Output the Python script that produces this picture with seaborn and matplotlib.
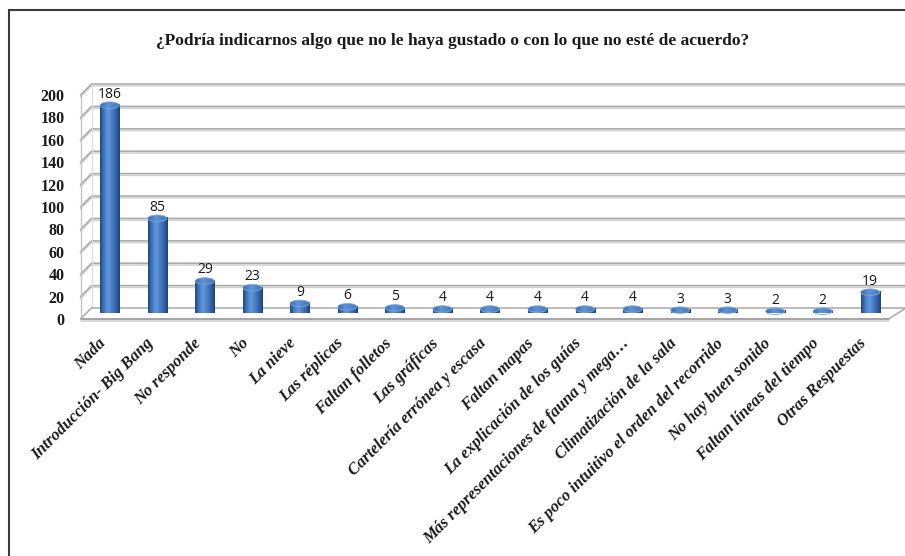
import numpy as np
import pandas as pd
import matplotlib
matplotlib.use('Agg')
import matplotlib.pyplot as plt
import matplotlib.patheffects as pe
import seaborn as sns
from matplotlib.patches import Ellipse, Polygon
from matplotlib.colors import LinearSegmentedColormap
from matplotlib.lines import Line2D

# ---------------- data ----------------
categories = ["Nada", "Introducción- Big Bang", "No responde", "No", "La nieve",
              "Las réplicas", "Faltan folletos", "Las gráficas",
              "Cartelería errónea y escasa", "Faltan mapas",
              "La explicación de los guías",
              "Más representaciones de fauna y mega…",
              "Climatización de la sala",
              "Es poco intuitivo el orden del recorrido",
              "No hay buen sonido", "Faltan líneas del tiempo",
              "Otras Respuestas"]
values = [186, 85, 29, 23, 9, 6, 5, 4, 4, 4, 4, 4, 3, 3, 2, 2, 19]
y_ticks = list(range(0, 201, 20))
title = "¿Podría indicarnos algo que no le haya gustado o con lo que no esté de acuerdo?"

# ---------------- figure ----------------
sns.set_theme(style='white')
plt.rcParams['font.family'] = ['Liberation Serif', 'DejaVu Serif']
W, H = 905, 556
fig = plt.figure(figsize=(W / 100, H / 100), dpi=100)
fig.patch.set_facecolor('white')

ax_left, ax_w = 86, 808
ax_bottom_px, ax_h = 313.5, 224
ax = fig.add_axes([ax_left / W, (H - ax_bottom_px) / H, ax_w / W, ax_h / H])
ax.set_facecolor('none')

df = pd.DataFrame({'cat': categories, 'val': values})
sns.barplot(data=df, x='cat', y='val', color='#3d73b9', width=0.4,
            saturation=1, ax=ax, zorder=4)

n = len(categories)
ppx = ax_w / n          # pixels per x unit
ppy = ax_h / 200.0      # pixels per y unit
dx = 5.5 / ppx          # depth offset (x)
dy = 5.5 / ppy          # depth offset (y)
xl, xr = -0.5, n - 0.5

# back wall gridlines + left wall diagonals
grid_pe = [pe.SimpleLineShadow(offset=(0, -1.3), shadow_color='#d0d0d0', alpha=1),
           pe.Normal()]
for t in y_ticks[1:]:
    ax.add_line(Line2D([xl - dx, xl + dx, xr + 2.2 * dx],
                       [t - dy, t + dy, t + dy],
                       color='#a8a8a8', lw=1.1, clip_on=False, zorder=1,
                       path_effects=grid_pe))
# floor
floor = Polygon([(xl - dx, -dy), (xr - dx, -dy), (xr + 2.2 * dx, dy), (xl + dx, dy)],
                closed=True, facecolor='white', edgecolor='#a8a8a8', lw=1.1,
                clip_on=False, zorder=1.5)
ax.add_patch(floor)
ax.add_line(Line2D([xl - dx, xr - dx], [-dy, -dy], color='#a0a0a0', lw=1.1,
                   clip_on=False, zorder=1.6, path_effects=grid_pe))
# left wall edges
ax.add_line(Line2D([xl - dx, xl - dx], [-dy, 200 - dy], color='#c4c4c4', lw=1.0,
                   clip_on=False, zorder=1))
ax.add_line(Line2D([xl + dx, xl + dx], [dy, 200 + dy], color='#dcdcdc', lw=0.8,
                   clip_on=False, zorder=1))

# cylinder shading
cmap_body = LinearSegmentedColormap.from_list(
    'body', [(0, '#1f4a85'), (0.28, '#4f86d0'), (0.42, '#6398dc'),
             (0.7, '#3d72ba'), (1, '#1c4377')])
cmap_top = LinearSegmentedColormap.from_list(
    'top', [(0, '#3669b0'), (0.4, '#5f93d8'), (1, '#3f74bd')])
grad = np.linspace(0, 1, 256).reshape(1, -1)
eh = 6.5 / ppy  # ellipse height in data units

bars = list(ax.patches)
for p, v in zip(bars, values):
    x0, w, h = p.get_x(), p.get_width(), p.get_height()
    xc = x0 + w / 2
    p.set_facecolor('none')
    p.set_edgecolor('none')
    # bottom half ellipse
    eb = Ellipse((xc, 0), w, eh, facecolor='none', edgecolor='none', clip_on=False)
    ax.add_patch(eb)
    im = ax.imshow(grad, cmap=cmap_body, extent=(x0, x0 + w, -eh / 2, eh / 2),
                   aspect='auto', zorder=3.5, interpolation='bilinear')
    im.set_clip_path(eb)
    im.set_clip_box(None)
    # body
    im = ax.imshow(grad, cmap=cmap_body, extent=(x0, x0 + w, 0, h),
                   aspect='auto', zorder=4, interpolation='bilinear')
    im.set_clip_path(p)
    im.set_clip_box(None)
    # top ellipse
    et = Ellipse((xc, h), w, eh, facecolor='none', edgecolor='none', clip_on=False)
    ax.add_patch(et)
    im = ax.imshow(grad, cmap=cmap_top, extent=(x0, x0 + w, h - eh / 2, h + eh / 2),
                   aspect='auto', zorder=5, interpolation='bilinear')
    im.set_clip_path(et)
    im.set_clip_box(None)
    ax.add_patch(Ellipse((xc, h), w, eh, facecolor='none', edgecolor='#7fa6dc',
                         lw=0.6, zorder=6, clip_on=False))
    # value label
    ax.annotate(str(v), (xc, h), xytext=(0, 5.5), textcoords='offset points',
                ha='center', va='baseline', fontsize=10, color='#1a1a1a',
                family=['Open Sans', 'DejaVu Sans'], zorder=7, annotation_clip=False)

# y labels (front plane)
for t in y_ticks:
    ax.text(xl - dx - 16 / ppx, t - dy - 2 / ppy, str(t), ha='right', va='center',
            fontsize=11.5, fontweight='bold', color='#1a1a1a', clip_on=False)

# x labels
for i, c in enumerate(categories):
    ax.text(i - 6 / ppx, -27.5 / ppy, c, rotation=45, rotation_mode='anchor',
            ha='right', va='center', fontsize=12, fontweight='bold',
            style='italic', color='#1a1a1a', clip_on=False)

ax.set_xlim(xl, xr)
ax.set_ylim(0, 200)
ax.set_xticks([])
ax.set_yticks([])
ax.set_xlabel('')
ax.set_ylabel('')
for s in ax.spines.values():
    s.set_visible(False)

# title
fig.text(453 / W, 1 - 41 / H, title, ha='center', va='center', fontsize=12.5,
         fontweight='bold', color='#1a1a1a')

# outer frame (left and top edges visible)
fig.add_artist(Line2D([9 / W, 9 / W], [0, 1 - 10 / H], transform=fig.transFigure,
                      color='#3a3a3a', lw=1.5))
fig.add_artist(Line2D([9 / W, 1], [1 - 10 / H, 1 - 10 / H], transform=fig.transFigure,
                      color='#3a3a3a', lw=1.5))

fig.savefig('out.png', dpi=100, facecolor='white')
